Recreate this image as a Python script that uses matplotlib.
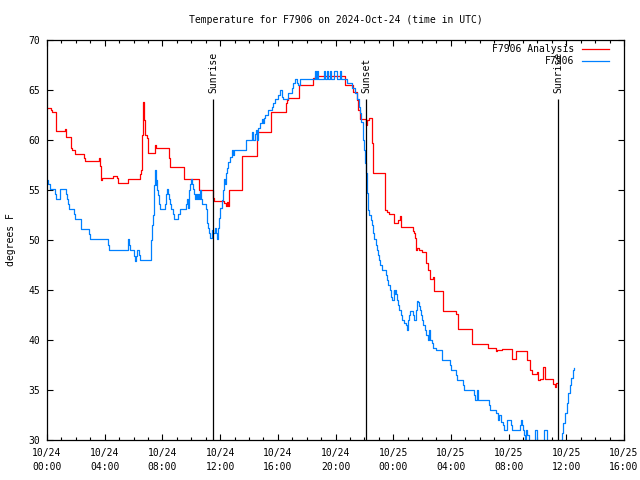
import matplotlib
matplotlib.use("Agg")
import matplotlib.pyplot as plt
from matplotlib.ticker import MultipleLocator

# hours since 2024-10-24 00:00 UTC
analysis_hours = [0.0, 0.25, 0.37, 0.6, 0.65, 1.27, 1.32, 1.64, 1.76, 1.94, 2.56, 2.61,
                  3.6, 3.67, 3.72, 3.76, 3.8, 4.57, 4.85, 4.92, 5.61, 6.44, 6.54, 6.58,
                  6.65, 6.7, 6.76, 6.82, 6.91, 6.97, 7.46, 7.55, 8.48, 8.55, 9.52, 10.55,
                  11.53, 11.6, 12.29, 12.4, 12.5, 12.57, 12.63, 13.52, 14.53, 15.5, 15.55,
                  16.56, 16.66, 16.72, 17.49, 18.46, 18.57, 20.65, 21.23, 21.5, 21.58,
                  21.69, 22.1, 22.2, 22.34, 22.5, 22.58, 23.44, 23.55, 23.72, 24.05, 24.3,
                  24.46, 24.53, 25.34, 25.43, 25.5, 25.57, 25.65, 25.8, 26.0, 26.26, 26.43,
                  26.54, 26.75, 26.82, 27.47, 28.32, 28.5, 29.47, 30.58, 31.11, 31.2, 31.51,
                  32.27, 32.5, 33.29, 33.47, 33.63, 33.94, 34.05, 34.2, 34.4, 34.53, 35.09,
                  35.2, 35.3, 35.37]
analysis_temp = [63.2, 63.0, 62.8, 62.6, 60.9, 61.1, 60.3, 59.2, 59.0, 58.6, 58.2, 57.9,
                 58.2, 57.4, 56.5, 56.0, 56.2, 56.4, 56.2, 55.7, 56.1, 56.6, 57.0, 60.5,
                 63.8, 62.0, 61.0, 60.5, 60.2, 58.7, 59.5, 59.2, 58.2, 57.3, 56.1, 55.0,
                 54.2, 53.9, 53.7, 53.4, 53.8, 53.4, 55.0, 58.4, 60.8, 61.3, 62.8,
                 63.7, 64.0, 64.2, 65.5, 66.2, 66.4, 65.5, 64.8, 64.0, 63.0,
                 62.1, 61.5, 62.0, 62.2, 59.7, 56.7, 53.0, 52.8, 52.6, 51.7, 52.0,
                 52.4, 51.3, 50.9, 50.7, 50.2, 49.0, 49.2, 49.0, 48.8, 47.7, 47.0,
                 46.1, 46.3, 44.9, 42.9, 42.6, 41.1, 39.6, 39.2, 38.9, 39.0, 39.1,
                 38.1, 38.9, 38.0, 37.0, 36.6, 36.8, 36.0, 36.1, 37.3, 36.1, 35.6,
                 35.3, 35.7, 35.7]

obs_hours = [0.0, 0.09, 0.21, 0.53, 0.6, 0.88, 1.29, 1.36, 1.45, 1.52, 1.87, 1.94, 2.35,
             2.38, 2.91, 2.98, 4.23, 4.3, 5.61, 5.68, 5.75, 6.03, 6.1, 6.17, 6.26, 6.38,
             6.42, 7.16, 7.19, 7.25, 7.32, 7.39, 7.44, 7.48, 7.53, 7.58, 7.62, 7.69, 7.76,
             7.83, 8.16, 8.22, 8.32, 8.39, 8.45, 8.52, 8.61, 8.71, 8.82, 9.1, 9.19, 9.61,
             9.7, 9.75, 9.84, 9.91, 9.98, 10.07, 10.14, 10.21, 10.26, 10.33, 10.4, 10.49,
             10.56, 10.62, 10.67, 10.72, 11.0, 11.07, 11.11, 11.18, 11.25, 11.32, 11.41,
             11.53, 11.64, 11.71, 11.76, 11.83, 11.87, 11.94, 12.01, 12.1, 12.18, 12.25,
             12.34, 12.4, 12.47, 12.57, 12.68, 12.8, 12.89, 12.98, 13.77, 14.19, 14.28,
             14.41, 14.46, 14.53, 14.65, 14.78, 14.88, 14.95, 15.02, 15.11, 15.34, 15.57,
             15.68, 15.8, 16.03, 16.15, 16.26, 16.38, 16.72, 16.96, 17.07, 17.19, 17.3,
             17.42, 17.53, 18.57, 18.64, 18.75, 18.82, 19.2, 19.27, 19.4, 19.47, 19.6,
             19.67, 19.9, 20.1, 20.3, 20.37, 20.65, 20.77, 21.12, 21.34, 21.5, 21.6,
             21.69, 21.78, 21.88, 21.92, 21.99, 22.04, 22.1, 22.15, 22.18, 22.22, 22.27,
             22.34, 22.43, 22.5, 22.57, 22.64, 22.82, 22.89, 22.96, 23.03, 23.1, 23.19,
             23.49, 23.56, 23.65, 23.77, 23.84, 23.93, 24.03, 24.07, 24.12, 24.19, 24.23,
             24.35, 24.42, 24.51, 24.62, 24.76, 24.86, 24.93, 25.0, 25.04, 25.11, 25.18,
             25.34, 25.41, 25.59, 25.66, 25.73, 25.8, 25.87, 25.94, 26.01, 26.1, 26.2,
             26.29, 26.38, 26.47, 26.56, 26.66, 26.77, 27.0, 27.35, 27.93, 28.0, 28.34,
             28.39, 28.81, 28.9, 29.61, 29.68, 29.78, 29.85, 30.65, 30.7, 31.16, 31.28,
             31.35, 31.44, 31.58, 31.67, 31.86, 32.16, 32.22, 32.78, 32.85, 32.92, 33.01,
             33.08, 33.15, 33.24, 33.31, 33.38, 33.82, 34.0, 34.47, 34.63, 35.55, 35.67,
             35.78, 35.9, 36.02, 36.13, 36.25, 36.36, 36.47, 36.55]
obs_temp = [56.0, 55.6, 55.1, 54.6, 54.1, 55.1, 54.6, 54.1, 53.6, 53.1, 52.6, 52.1, 51.6,
            51.1, 50.6, 50.1, 49.5, 49.0, 50.1, 49.5, 49.0, 48.4, 47.9, 48.4, 49.0, 48.5,
            48.0, 48.0, 50.0, 51.5, 52.5, 54.0, 55.5, 57.0, 55.5, 56.0, 55.0, 54.5, 53.6,
            53.1, 53.6, 54.6, 55.1, 54.6, 54.1, 53.6, 53.1, 52.6, 52.1, 52.6, 53.1, 53.6,
            54.1, 53.2, 55.0, 55.6, 56.1, 55.6, 55.1, 54.6, 54.1, 54.6, 54.1, 54.6,
            54.1, 55.0, 54.1, 53.6, 53.1, 52.6, 51.7, 51.2, 50.7, 50.2, 51.0,
            50.7, 51.2, 50.7, 50.1, 50.7, 51.2, 52.2, 53.2, 54.0, 55.0, 56.1,
            55.6, 56.7, 57.2, 57.8, 58.3, 59.0, 58.5, 59.0, 60.0, 60.8, 60.0,
            60.6, 61.0, 60.0, 61.2, 61.7, 62.1, 61.7, 62.2, 62.5, 63.0, 63.3,
            63.7, 64.1, 64.5, 65.0, 64.3, 64.1, 64.7, 65.2, 65.7, 66.1, 65.7,
            65.5, 66.1, 66.9, 66.1, 66.9, 66.1, 66.9, 66.1, 66.9, 66.1, 66.9,
            66.1, 66.9, 66.1, 66.9, 66.1, 66.1, 65.7, 65.2, 64.7, 64.1, 63.3,
            62.7, 61.8, 61.0, 60.0, 59.0, 57.7, 56.7, 55.7, 54.7, 54.2, 53.0,
            52.5, 52.0, 51.5, 50.7, 50.1, 49.5, 49.0, 48.5, 48.0, 47.5, 47.0,
            46.5, 46.0, 45.5, 45.0, 44.3, 44.0, 45.0, 44.6, 45.0, 44.6, 44.0,
            43.5, 43.0, 42.5, 42.0, 41.7, 41.5, 41.0, 41.5, 42.0, 42.5, 42.9,
            42.5, 42.0, 43.0, 43.9, 43.8, 43.4, 43.0, 42.5, 42.0, 41.5, 41.0,
            40.5, 40.0, 41.0, 40.0, 39.7, 39.2, 39.0, 38.0, 37.5, 37.0, 36.5,
            36.0, 35.5, 35.0, 34.5, 34.0, 35.0, 34.0, 33.5, 33.0, 32.7, 32.0,
            32.5, 31.8, 31.5, 31.0, 32.0, 31.5, 31.0, 31.5, 32.0, 31.5, 31.0,
            30.5, 29.5, 31.0, 30.5, 29.5, 31.0, 29.5, 31.0, 29.5, 30.0, 30.7,
            31.7, 32.7, 33.7, 34.7, 35.5, 36.2, 37.0, 37.2]

sun_events = ["Sunrise", "Sunset", "Sunrise"]
sun_hours = [11.53, 22.13, 35.43]
sun_line_top = 64.1

tick_hours = list(range(0, 41, 4))
tick_labels = ["10/24\n00:00", "10/24\n04:00", "10/24\n08:00", "10/24\n12:00",
               "10/24\n16:00", "10/24\n20:00", "10/25\n00:00", "10/25\n04:00",
               "10/25\n08:00", "10/25\n12:00", "10/25\n16:00"]

mono = "DejaVu Sans Mono"
plt.rcParams["font.family"] = mono
plt.rcParams["font.size"] = 7

fig = plt.figure(figsize=(6.4, 4.8), dpi=100)
ax = fig.add_axes([47 / 640, 40 / 480, 577 / 640, 400 / 480])

ax.plot(analysis_hours, analysis_temp, drawstyle="steps-post", color="#ff0000",
        lw=0.9, label="F7906 Analysis")
ax.plot(obs_hours, obs_temp, drawstyle="steps-post", color="#0080ff",
        lw=0.9, label="F7906")

for name, h in zip(sun_events, sun_hours):
    ax.vlines(h, 30, sun_line_top, color="black", lw=0.9)
    ax.text(h, sun_line_top + 0.6, name, rotation=90, ha="center", va="bottom",
            fontsize=7)

ax.set_xlim(0, 40)
ax.set_ylim(30, 70)
ax.set_xticks(tick_hours)
ax.set_xticklabels(tick_labels, linespacing=1.5)
ax.xaxis.set_minor_locator(MultipleLocator(1))
ax.yaxis.set_major_locator(MultipleLocator(5))

ax.tick_params(which="both", direction="in", top=True, right=True, width=0.8)
ax.tick_params(which="major", length=4.5)
ax.tick_params(which="minor", length=2.2)
ax.tick_params(axis="x", pad=6)
ax.tick_params(axis="y", pad=5)
for sp in ax.spines.values():
    sp.set_linewidth(0.9)

ax.set_title("Temperature for F7906 on 2024-Oct-24 (time in UTC)", fontsize=7, pad=12.5)
ax.set_ylabel("degrees F", labelpad=8.5)

ax.legend(loc="upper right", bbox_to_anchor=(0.974, 0.99), frameon=False,
          markerfirst=False, borderpad=0, borderaxespad=0, handlelength=2.8,
          handletextpad=0.8, labelspacing=0.25, fontsize=7)

fig.savefig("out.png", dpi=100)
